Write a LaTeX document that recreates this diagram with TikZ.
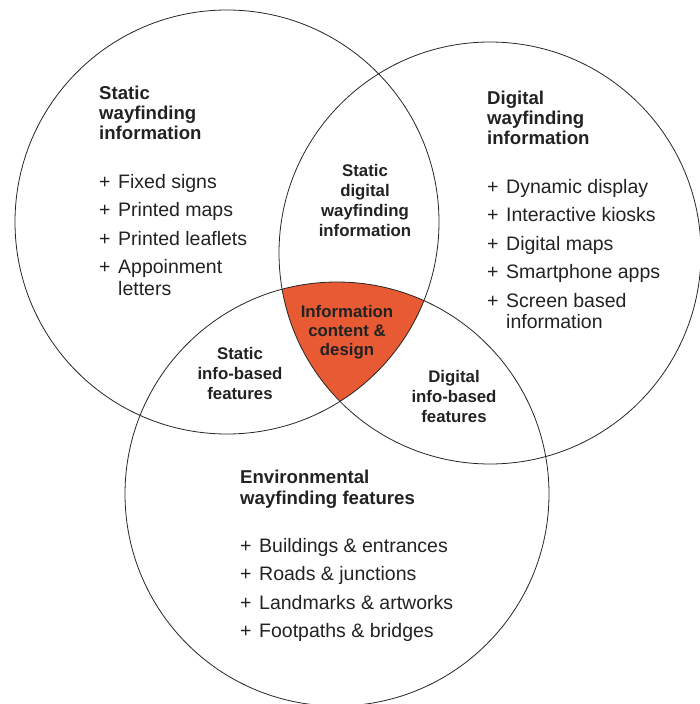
\documentclass[tikz,border=0pt]{standalone}
\usepackage{fontspec}
\setmainfont{Liberation Sans}
\definecolor{ink}{HTML}{222222}
\definecolor{accent}{HTML}{E85A33}
\newcommand{\bul}{\makebox[19pt][l]{+}}
\newcommand{\cont}{\hspace*{19pt}}
\begin{document}
\begin{tikzpicture}[x=1pt,y=-1pt,
  ring/.style={draw=black!85, line width=0.8pt},
  head/.style={inner sep=0pt, anchor=base west, text=ink,
    font=\fontsize{18.6}{20}\selectfont\bfseries},
  midlabel/.style={inner sep=0pt, anchor=base, text=ink,
    font=\fontsize{16.8}{20.3}\selectfont\bfseries},
  items/.style={inner sep=0pt, anchor=base west, text=ink,
    font=\fontsize{19.5}{21.7}\selectfont}]
\useasboundingbox (0,0) rectangle (699,704);

% circle centres
\coordinate (cA) at (227,222);
\coordinate (cB) at (490,253);
\coordinate (cC) at (337,494);

% shared core of all three sets
\begin{scope}
  \clip (cA) circle (212pt);
  \clip (cB) circle (211pt);
  \fill[accent] (cC) circle (212pt);
\end{scope}

\draw[ring] (cA) circle (212pt);
\draw[ring] (cB) circle (211pt);
\draw[ring] (cC) circle (212pt);

% static set
\node[head] (tA) at (99,99) {\begin{tabular}[t]{@{}l@{}}Static\\wayfinding\\information\end{tabular}};
\node[items] (lA) at (99,188) {\begin{tabular}[t]{@{}l@{}}
\bul Fixed signs\\[6.8pt]
\bul Printed maps\\[6.8pt]
\bul Printed leaflets\\[6.8pt]
\bul Appoinment\\
\cont letters\end{tabular}};

% digital set
\node[head] (tB) at (487,104) {\begin{tabular}[t]{@{}l@{}}Digital\\wayfinding\\information\end{tabular}};
\node[items] (lB) at (487,193) {\begin{tabular}[t]{@{}l@{}}
\bul Dynamic display\\[6.8pt]
\bul Interactive kiosks\\[6.8pt]
\bul Digital maps\\[6.8pt]
\bul Smartphone apps\\[6.8pt]
\bul Screen based\\
\cont information\end{tabular}};

% environmental set
\node[head, font=\fontsize{18.6}{21}\selectfont\bfseries] (tC) at (240,483) {\begin{tabular}[t]{@{}l@{}}Environmental\\wayfinding features\end{tabular}};
\node[items] (lC) at (240,552) {\begin{tabular}[t]{@{}l@{}}
\bul Buildings \& entrances\\[6.8pt]
\bul Roads \& junctions\\[6.8pt]
\bul Landmarks \& artworks\\[6.8pt]
\bul Footpaths \& bridges\end{tabular}};

% overlaps
\node[midlabel] (oAB) at (365,176) {\begin{tabular}[t]{@{}c@{}}Static\\digital\\wayfinding\\information\end{tabular}};
\node[midlabel, font=\fontsize{16.8}{19.3}\selectfont\bfseries] (oABC) at (347,317) {\begin{tabular}[t]{@{}c@{}}Information\\content \&\\design\end{tabular}};
\node[midlabel] (oAC) at (240,359) {\begin{tabular}[t]{@{}c@{}}Static\\info-based\\features\end{tabular}};
\node[midlabel] (oBC) at (454,382) {\begin{tabular}[t]{@{}c@{}}Digital\\info-based\\features\end{tabular}};
\end{tikzpicture}
\end{document}
